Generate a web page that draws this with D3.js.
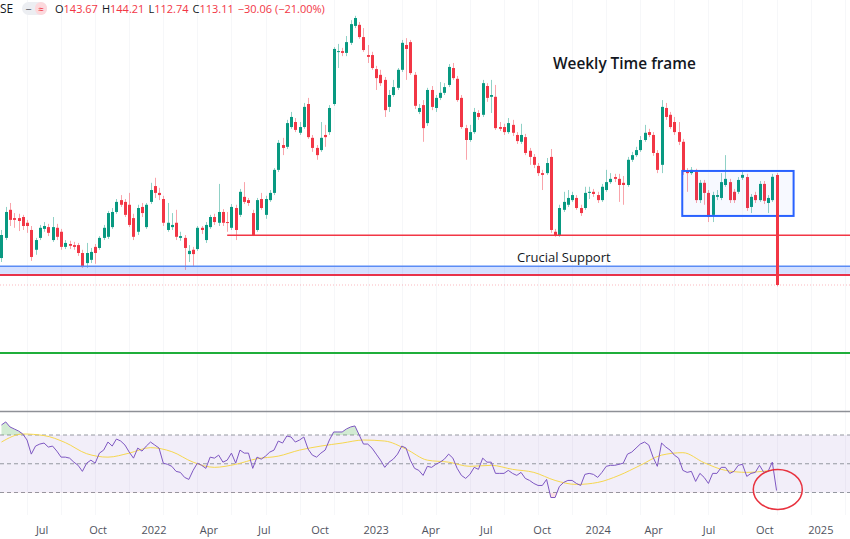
<!DOCTYPE html>
<html>
<head>
<meta charset="utf-8">
<title>Weekly Time frame</title>
<style>
body { margin: 0; background: #fff; }
svg { display: block; font-family: "Open Sans", "Noto Sans", sans-serif; }
.axis path, .axis line { display: none; }
.axis text { fill: #50535e; font-size: 11px; font-family: "Open Sans", "Noto Sans", sans-serif; }
</style>
<script src="https://cdn.jsdelivr.net/npm/d3@7"></script>
</head>
<body>
<svg width="850" height="539"></svg>
<script>

// weekly candles, first week 2021-04-26
var open = [
120.6,126.2,134.0,131.7,131.7,132.0,130.4,128.4,122.9,126.2,
128.7,129.2,125.6,129.0,127.9,123.7,124.5,124.2,124.2,122.0,
119.2,120.1,123.7,123.4,126.2,126.5,129.2,133.4,136.7,136.2,
135.4,131.7,127.9,134.8,129.2,136.2,140.6,138.7,137.0,128.4,
129.2,130.4,126.2,126.2,121.7,122.9,123.1,129.0,125.6,129.2,
132.0,130.4,133.4,130.6,129.0,134.5,132.6,137.6,136.7,133.1,
128.4,137.0,132.6,136.7,138.7,145.1,152.0,151.5,157.0,158.4,
155.4,157.0,163.4,154.0,151.2,150.6,154.8,155.6,163.4,177.9,
178.1,177.6,180.4,185.1,185.4,182.0,177.0,177.0,173.1,171.5,
170.1,162.6,165.9,167.9,172.9,179.8,180.6,171.5,161.2,163.1,
158.1,167.3,162.3,165.1,166.5,168.7,173.4,170.4,165.1,156.7,
153.4,155.6,160.9,160.4,168.4,165.4,165.4,157.0,157.0,155.6,
157.6,154.8,152.9,154.2,150.4,148.7,146.2,144.2,144.2,148.7,
127.9,127.0,134.0,135.4,136.7,137.3,134.5,134.5,138.7,139.0,
138.1,136.7,139.5,141.7,143.1,142.6,141.5,140.9,147.9,149.2,
150.6,153.4,155.6,154.8,149.8,146.5,162.3,160.4,158.4,155.6,
152.9,144.8,144.2,144.5,136.7,141.5,138.7,132.6,137.6,137.3,
140.9,141.7,139.0,139.0,142.9,143.1,134.8,138.1,136.7,141.2,
135.9,136.7,143.67
];
var high = [
128.4,134.8,135.9,133.1,132.9,132.6,131.2,129.5,126.2,129.8,
130.6,130.1,132.0,130.1,128.7,125.6,125.4,125.1,124.8,122.9,
124.8,123.4,124.5,126.7,129.8,133.7,134.5,137.0,138.1,137.0,
138.7,132.9,135.4,135.9,135.9,141.5,142.9,140.1,137.9,135.9,
133.1,134.0,127.9,127.0,124.2,123.7,129.5,129.5,130.6,132.6,
132.9,141.2,134.2,133.4,135.6,135.4,139.8,141.7,137.3,134.0,
137.3,138.7,137.9,139.5,145.6,153.4,154.0,159.0,161.2,159.5,
158.4,163.7,165.1,154.8,152.0,158.4,157.6,163.1,179.2,180.1,
179.0,182.3,186.7,187.9,186.2,184.5,179.8,177.9,174.0,172.9,
170.9,167.3,170.1,173.4,181.2,181.7,181.2,172.3,163.4,164.5,
167.9,168.4,165.9,169.5,169.2,174.5,174.8,171.2,165.9,157.6,
157.6,162.3,161.7,170.1,169.2,170.1,168.7,158.4,157.9,159.5,
159.0,155.6,157.9,155.1,151.2,149.5,147.0,145.1,148.4,150.9,
128.7,135.4,139.0,139.5,139.0,138.1,135.4,140.4,140.4,139.8,
139.0,141.2,145.1,144.2,144.0,144.0,143.4,148.7,150.1,151.5,
154.5,157.6,156.5,155.6,150.6,164.5,163.7,161.2,159.8,158.4,
153.7,145.6,145.9,145.4,142.3,142.3,139.5,139.0,139.5,144.2,
149.2,142.6,139.8,143.1,144.5,144.0,138.4,139.0,142.0,142.0,
138.1,144.0,144.21
];
var low = [
119.5,125.6,129.5,129.0,128.1,128.4,127.6,119.8,121.5,125.6,
127.9,126.7,125.1,125.6,122.9,123.1,123.1,122.9,121.2,117.9,
117.9,119.2,119.0,122.9,125.6,125.9,128.7,132.9,134.8,132.0,
129.2,125.6,127.0,132.0,128.7,135.6,137.3,136.7,129.5,127.9,
128.4,125.6,125.4,117.3,119.5,118.4,122.6,127.3,124.8,128.7,
129.8,129.5,129.5,127.9,128.4,125.6,132.0,135.6,135.1,126.7,
127.9,134.0,131.5,136.2,138.1,144.5,149.2,150.9,156.5,155.6,
154.8,156.5,153.7,150.1,147.9,150.1,151.5,154.8,162.9,173.4,
176.7,176.7,179.8,184.5,181.5,177.9,174.8,172.9,167.3,168.4,
159.8,161.2,165.4,167.3,172.3,170.1,171.5,162.0,160.6,152.9,
157.3,161.7,161.2,164.5,165.9,168.1,170.1,164.0,156.5,147.9,
152.9,155.1,159.0,159.8,164.0,160.9,156.2,155.9,154.8,155.1,
154.5,152.3,152.3,149.2,146.5,145.6,143.4,139.5,143.7,127.6,
126.5,126.5,133.4,134.8,136.2,134.0,132.3,134.0,137.0,137.6,
135.9,136.2,139.0,141.2,141.7,136.2,135.4,140.4,147.3,148.7,
150.1,152.9,154.2,149.0,144.2,144.2,159.0,156.5,154.8,152.0,
143.7,139.0,143.7,135.9,135.9,135.4,130.6,130.6,136.7,136.7,
140.4,135.9,135.9,138.4,142.3,133.7,133.1,135.9,136.2,135.6,
133.1,136.2,112.74
];
var close = [
127.0,133.4,131.2,131.2,130.9,129.5,129.5,120.9,125.6,129.0,
129.5,127.6,129.2,126.5,123.7,124.8,124.0,123.7,122.0,118.1,
122.0,122.3,122.0,126.2,129.0,133.1,133.4,136.2,135.4,132.6,
129.8,126.5,134.5,133.1,135.4,139.5,138.7,138.1,130.4,130.4,
129.8,126.5,126.7,123.4,122.6,121.7,129.0,128.4,129.8,132.0,
130.6,133.4,130.4,130.4,134.8,128.4,139.0,136.2,135.9,127.0,
136.7,134.5,137.0,138.7,145.1,152.6,151.2,158.1,159.8,156.2,
157.0,162.6,154.2,151.2,149.2,154.0,154.2,162.3,178.7,178.1,
177.6,180.6,185.6,187.3,182.0,178.4,176.5,173.4,170.6,169.2,
161.7,165.9,168.1,172.9,180.4,178.7,172.0,162.9,162.3,156.7,
167.3,162.6,165.1,166.5,168.1,173.7,170.6,164.5,157.0,153.4,
155.6,161.2,159.8,169.2,165.1,165.9,156.7,156.5,155.6,158.1,
155.4,153.1,154.8,149.8,148.7,146.5,144.2,143.7,147.0,128.4,
127.0,134.5,136.2,137.3,138.1,134.5,133.1,138.7,139.0,138.4,
136.7,140.4,141.7,142.6,142.6,140.9,140.9,147.9,149.2,150.6,
153.4,155.4,154.8,149.8,145.1,162.6,159.8,157.0,155.6,152.9,
144.5,144.2,145.1,136.7,141.5,138.7,132.0,138.1,138.1,141.7,
142.6,136.7,136.7,142.3,143.7,134.5,137.6,136.7,141.2,136.5,
137.3,143.17,113.11
];

// RSI(14), one value per week
var rsi = [
77.0,79.1,75.6,74.2,72.8,70.7,66.5,56.7,62.3,63.7,
64.4,61.6,62.3,58.8,54.6,54.6,53.9,51.1,48.9,44.7,
50.4,52.5,50.4,57.4,59.5,65.1,62.3,67.2,65.8,63.0,
58.1,53.9,60.9,58.8,62.3,65.1,63.0,60.9,50.4,49.6,
48.2,44.7,44.0,40.5,39.1,45.4,50.4,48.9,46.8,54.6,
53.9,56.0,51.1,52.5,57.4,50.4,59.5,57.4,57.4,46.8,
54.6,53.2,55.3,58.1,59.5,65.8,64.4,69.3,68.6,65.1,
66.5,68.6,60.2,56.0,54.6,57.4,59.5,66.5,72.1,72.1,
72.1,74.2,75.6,76.3,70.0,63.7,63.7,60.9,56.7,52.5,
47.5,51.1,53.2,56.7,62.3,60.9,52.5,46.8,45.4,41.9,
48.2,47.5,49.6,51.1,53.2,56.7,53.9,46.8,41.9,39.8,
42.6,47.5,46.1,53.9,51.1,51.1,43.3,43.3,43.3,45.4,
43.3,41.9,44.0,39.8,38.4,36.3,34.9,34.9,39.1,26.5,
26.5,34.2,37.0,38.4,38.4,36.3,34.9,42.6,43.3,42.6,
40.5,44.0,48.2,48.9,48.9,49.6,50.4,56.7,58.1,60.9,
63.7,65.1,63.0,54.6,48.2,64.4,61.6,59.5,56.0,53.9,
45.4,44.0,44.7,37.7,43.3,40.5,36.3,43.3,43.3,47.5,
47.5,43.3,44.7,48.9,49.6,41.2,43.3,44.0,48.9,44.0,
44.7,51.1,31.4
];

// RSI-based MA, read every 5 weeks
var maWeek = [0,5,10,15,20,25,30,35,40,45,50,55,60,65,70,75,80,85,90,95,
              100,105,110,115,120,125,130,135,140,145,150,155,160,165,170,175,180,181];
var maValue = [65.1,70.7,69.6,64.7,57.0,54.6,57.4,61.2,58.4,51.1,47.5,49.6,53.5,55.3,
               59.5,62.3,64.4,66.5,65.8,60.2,52.5,51.1,48.2,48.9,46.1,44.0,38.4,35.6,
               37.0,41.9,48.9,56.0,57.7,50.7,45.4,44.0,45.1,45.4];

var tickDates = ["2021-07-01","2021-10-01","2022-01-01","2022-04-01","2022-07-01","2022-10-01",
                 "2023-01-01","2023-04-01","2023-07-01","2023-10-01","2024-01-01","2024-04-01",
                 "2024-07-01","2024-10-01","2025-01-01"];

// drawn levels
var supportLine = 126.9, bandTop = 118.3, bandBottom = 116.2, crucialLine = 115.9;
var greenLine = 94.2, lastClose = 113.11;

var svg = d3.select("svg"),
    width = +svg.attr("width"),
    paneBottom = 411;

var weekStart = new Date(Date.UTC(2021, 3, 26));
var weeks = d3.range(close.length).map(function(i) { return d3.utcDay.offset(weekStart, 7 * i); });

var x = d3.scaleUtc()
    .domain([new Date(Date.UTC(2021, 3, 23, 14)), new Date(Date.UTC(2025, 1, 18, 17))])
    .range([0, width]);
var y = d3.scaleLinear().domain([192.3, 78.1]).range([0, paneBottom]);
var yR = d3.scaleLinear().domain([30, 70]).range([492.5, 435]);

var up = "#089981", down = "#f23645";

// faint grid, every 8 weeks
var grid = svg.append("g");
grid.selectAll("line")
  .data(d3.utcDay.range(new Date(Date.UTC(2021, 5, 7)), new Date(Date.UTC(2025, 2, 1)), 56))
  .enter().append("line")
  .attr("x1", function(d) { return Math.round(x(d)) + 0.5; })
  .attr("x2", function(d) { return Math.round(x(d)) + 0.5; })
  .attr("y1", 0).attr("y2", 515)
  .attr("stroke", "#f6f7f9").attr("stroke-width", 1);

// candles
var candles = svg.append("g");
var c = candles.selectAll("g").data(weeks).enter().append("g");
c.append("line")
  .attr("x1", function(d) { return Math.round(x(d)) + 0.5; })
  .attr("x2", function(d) { return Math.round(x(d)) + 0.5; })
  .attr("y1", function(d, i) { return y(high[i]); })
  .attr("y2", function(d, i) { return y(low[i]); })
  .attr("stroke", function(d, i) { return close[i] >= open[i] ? up : down; })
  .attr("stroke-opacity", 0.45)
  .attr("stroke-width", 1);
c.append("rect")
  .attr("x", function(d) { return Math.round(x(d)) - 1; })
  .attr("width", 3)
  .attr("y", function(d, i) { return y(Math.max(open[i], close[i])); })
  .attr("height", function(d, i) { return Math.max(1, Math.abs(y(open[i]) - y(close[i]))); })
  .attr("fill", function(d, i) { return close[i] >= open[i] ? up : down; });

// support lines and zones
svg.append("line")
  .attr("x1", x(new Date(Date.UTC(2022, 4, 2)))).attr("x2", width)
  .attr("y1", y(supportLine)).attr("y2", y(supportLine))
  .attr("stroke", "#f23645").attr("stroke-width", 1.5);

svg.append("rect")
  .attr("x", 0).attr("width", width)
  .attr("y", y(bandTop)).attr("height", y(bandBottom) - y(bandTop))
  .attr("fill", "#2962ff").attr("fill-opacity", 0.2);
svg.append("line")
  .attr("x1", 0).attr("x2", width)
  .attr("y1", y(bandTop)).attr("y2", y(bandTop))
  .attr("stroke", "#5b8cf5").attr("stroke-width", 1.5);
svg.append("line")
  .attr("x1", 0).attr("x2", width)
  .attr("y1", y(crucialLine)).attr("y2", y(crucialLine))
  .attr("stroke", "#e8324a").attr("stroke-width", 2);
svg.append("line")
  .attr("x1", 0).attr("x2", width)
  .attr("y1", y(lastClose)).attr("y2", y(lastClose))
  .attr("stroke", "#f23645").attr("stroke-opacity", 0.35)
  .attr("stroke-dasharray", "1,2");
svg.append("line")
  .attr("x1", 0).attr("x2", width)
  .attr("y1", y(greenLine)).attr("y2", y(greenLine))
  .attr("stroke", "#1fae3a").attr("stroke-width", 2);

// range box
var boxStart = new Date(Date.UTC(2024, 4, 19)), boxEnd = new Date(Date.UTC(2024, 10, 18));
svg.append("rect")
  .attr("x", x(boxStart)).attr("width", x(boxEnd) - x(boxStart))
  .attr("y", y(144.8)).attr("height", y(132.3) - y(144.8))
  .attr("fill", "#2962ff").attr("fill-opacity", 0.04)
  .attr("stroke", "#2962ff").attr("stroke-width", 2);

// redraw last candle on top
var last = close.length - 1;
svg.append("rect")
  .attr("x", Math.round(x(weeks[last])) - 1).attr("width", 3)
  .attr("y", y(open[last])).attr("height", y(close[last]) - y(open[last]))
  .attr("fill", down);

// labels
svg.append("text").attr("x", 553).attr("y", 69)
  .attr("font-size", 15.4).attr("font-weight", 600).attr("fill", "#131722")
  .text("Weekly Time frame");
svg.append("text").attr("x", 517).attr("y", 262)
  .attr("font-size", 13).attr("fill", "#131722")
  .text("Crucial Support");

// legend line
svg.append("text").attr("x", 0).attr("y", 13).attr("font-size", 12).attr("fill", "#131722").text("SE");
svg.append("rect").attr("x", 22).attr("y", 2).attr("width", 25).attr("height", 13).attr("rx", 6.5).attr("fill", "#eceef2");
svg.append("rect").attr("x", 35).attr("y", 2).attr("width", 12).attr("height", 13).attr("rx", 6).attr("fill", "#fcd9dd");
svg.append("text").attr("x", 28.5).attr("y", 12.5).attr("text-anchor", "middle").attr("font-size", 11).attr("fill", "#50535e").text("\u2212");
svg.append("text").attr("x", 41).attr("y", 12.5).attr("text-anchor", "middle").attr("font-size", 10).attr("fill", "#f23645").text("\u2248");
var ohlc = svg.append("text").attr("x", 55).attr("y", 13).attr("font-size", 11);
[["O", open[last]], ["H", high[last]], ["L", low[last]], ["C", close[last]]].forEach(function(p, i) {
  ohlc.append("tspan").attr("fill", "#131722").attr("dx", i ? 4 : 0).text(p[0]);
  ohlc.append("tspan").attr("fill", "#f23645").text(p[1].toFixed(2));
});
var chg = close[last] - close[last - 1];
ohlc.append("tspan").attr("fill", "#f23645").attr("dx", 4)
  .text("\u2212" + Math.abs(chg).toFixed(2) + " (\u2212" + Math.abs(chg / close[last - 1] * 100).toFixed(2) + "%)");

// pane separator
svg.append("line").attr("x1", 0).attr("x2", width).attr("y1", paneBottom + 0.5).attr("y2", paneBottom + 0.5)
  .attr("stroke", "#8e9096").attr("stroke-width", 1.5);

// RSI pane
svg.append("rect").attr("x", 0).attr("width", width)
  .attr("y", yR(70)).attr("height", yR(30) - yR(70))
  .attr("fill", "#7e57c2").attr("fill-opacity", 0.1);
[70, 50, 30].forEach(function(v) {
  svg.append("line").attr("x1", 0).attr("x2", width)
    .attr("y1", yR(v)).attr("y2", yR(v))
    .attr("stroke", "#9598a1").attr("stroke-dasharray", "4,3");
});

var defs = svg.append("defs");
defs.append("clipPath").attr("id", "ob").append("rect")
  .attr("x", 0).attr("y", paneBottom).attr("width", width).attr("height", yR(70) - paneBottom);
defs.append("clipPath").attr("id", "os").append("rect")
  .attr("x", 0).attr("y", yR(30)).attr("width", width).attr("height", 30);

svg.append("path").datum(rsi)
  .attr("clip-path", "url(#ob)")
  .attr("fill", "#4caf50").attr("fill-opacity", 0.25)
  .attr("d", d3.area().x(function(d, i) { return x(weeks[i]); }).y0(yR(70)).y1(function(d) { return yR(d); }));
svg.append("path").datum(rsi)
  .attr("clip-path", "url(#os)")
  .attr("fill", "#f23645").attr("fill-opacity", 0.15)
  .attr("d", d3.area().x(function(d, i) { return x(weeks[i]); }).y0(yR(30)).y1(function(d) { return yR(d); }));

svg.append("path").datum(maValue)
  .attr("fill", "none").attr("stroke", "#f6d74f").attr("stroke-width", 1)
  .attr("d", d3.line().curve(d3.curveMonotoneX)
    .x(function(d, i) { return x(weeks[maWeek[i]]); }).y(function(d) { return yR(d); }));

svg.append("path").datum(rsi)
  .attr("fill", "none").attr("stroke", "#7e57c2").attr("stroke-width", 1)
  .attr("d", d3.line().x(function(d, i) { return x(weeks[i]); }).y(function(d) { return yR(d); }));

// circle on last RSI reading
svg.append("ellipse")
  .attr("cx", x(new Date(Date.UTC(2024, 9, 23)))).attr("cy", yR(32.1))
  .attr("rx", 24.5).attr("ry", 20)
  .attr("fill", "none").attr("stroke", "#e8323f").attr("stroke-width", 1.5);

// time axis
svg.append("g").attr("class", "axis")
  .attr("transform", "translate(0,526)")
  .call(d3.axisBottom(x)
    .tickValues(tickDates.map(function(s) { return new Date(s + "T00:00:00Z"); }))
    .tickSize(0).tickPadding(0)
    .tickFormat(function(d) { return d.getUTCMonth() === 0 ? d.getUTCFullYear() : d3.utcFormat("%b")(d); }));

</script>
</body>
</html>
